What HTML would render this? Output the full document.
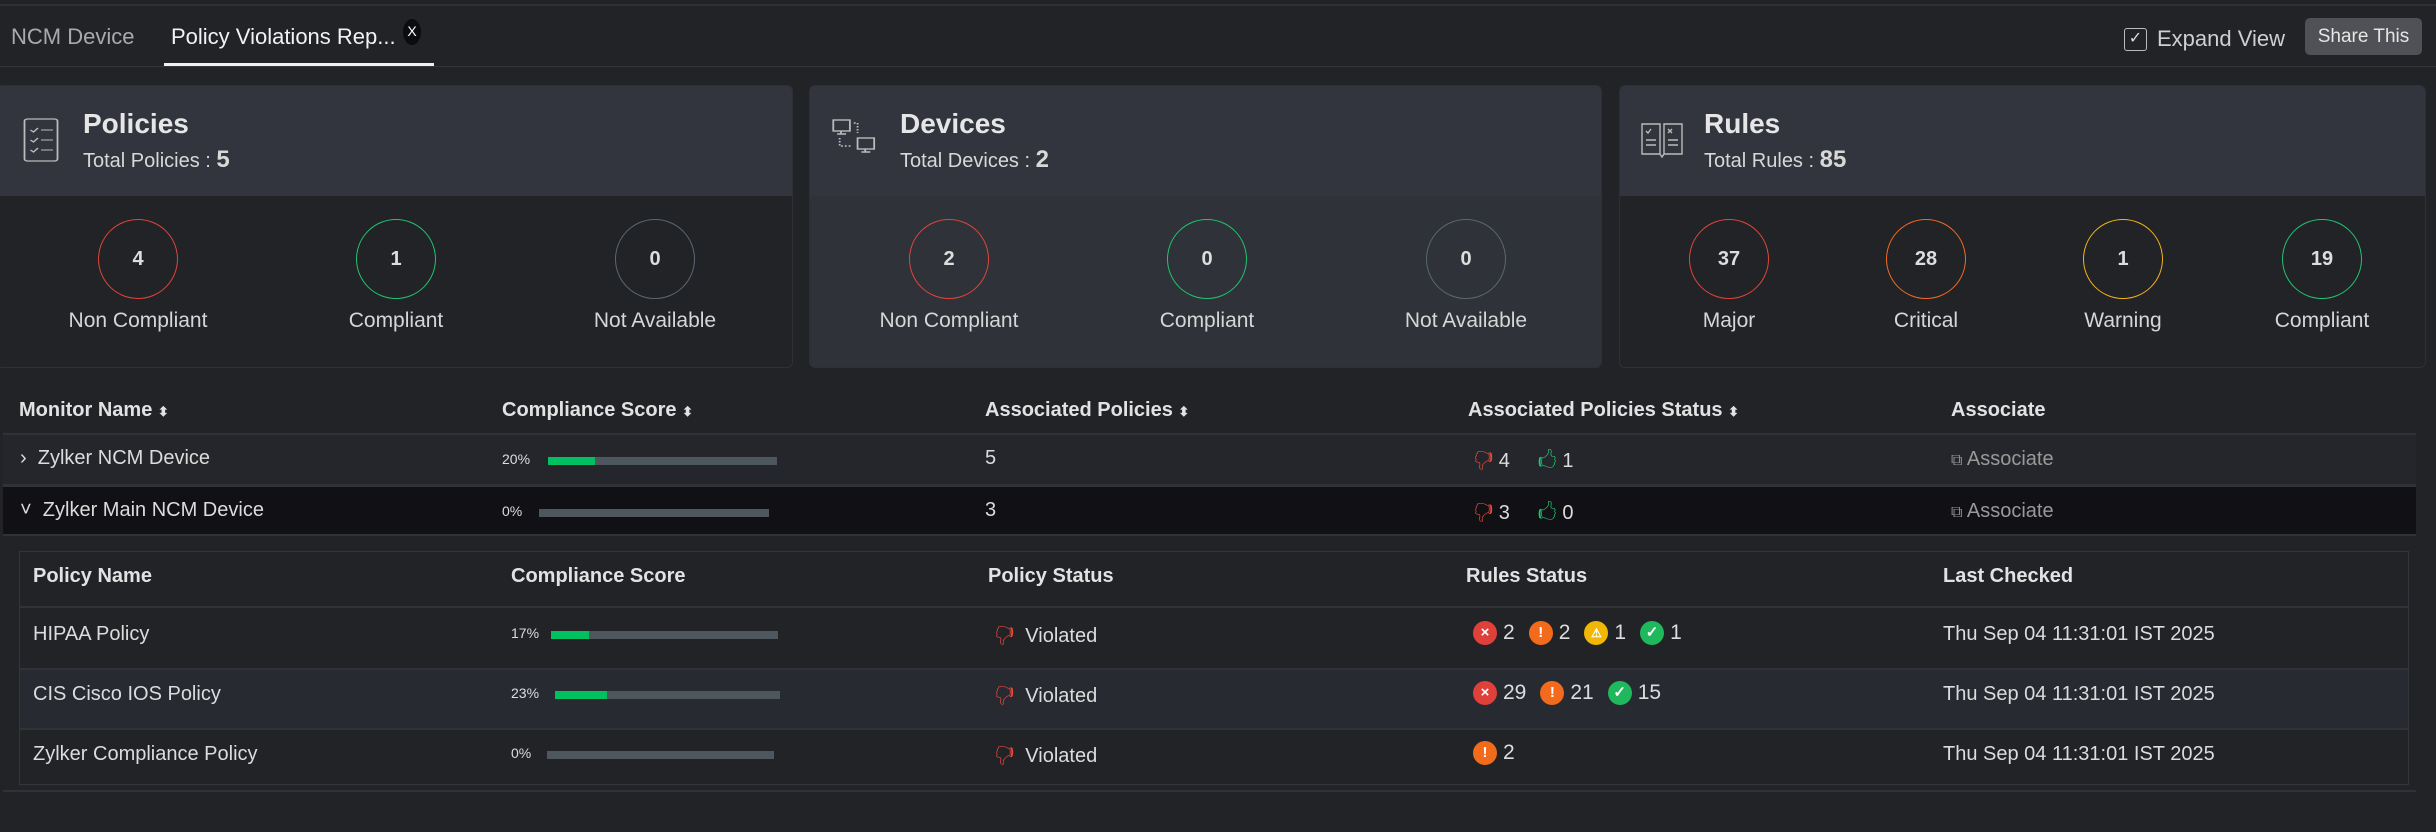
<!DOCTYPE html>
<html><head><meta charset="utf-8"><style>
*{margin:0;padding:0;box-sizing:border-box}
body{width:2436px;height:832px;background:#222327;font-family:"Liberation Sans",sans-serif;color:#dcdcdc;position:relative;overflow:hidden}
.a{position:absolute;white-space:nowrap}
.ln{position:absolute;height:2px;background:#303238}
.card{position:absolute;top:85px;height:283px;background:#222327;border:1px solid #2e3036;border-radius:6px;overflow:hidden}
.ch{position:absolute;left:0;right:0;top:0;height:110px;background:#32353d}
.tt{font-size:28px;font-weight:bold;color:#e6e6e6}
.tot{font-size:20px;color:#d8d8d8}
.tot b{font-size:24px}
.c{position:absolute;width:80px;height:80px;border-radius:50%;border:1.5px solid;top:133px;text-align:center;line-height:78px;font-size:20px;font-weight:bold;color:#ddd}
.cl{position:absolute;top:223px;font-size:21px;color:#d6d6d6;width:240px;text-align:center}
.th{font-size:20px;font-weight:bold;color:#e2e2e2}
.td{font-size:20px;color:#dcdcdc}
.bar{position:absolute;height:8px;background:#4f575e}
.bar i{position:absolute;left:0;top:0;bottom:0;background:#00c060}
.pct{font-size:14px;color:#ddd}
.ic{display:inline-block;width:24px;height:24px;border-radius:50%;color:#fff;font-size:15px;font-weight:bold;text-align:center;line-height:24px;vertical-align:middle;margin-right:6px}
.rs{font-size:21px;color:#ddd}
.rs span.n{margin-right:14px;vertical-align:middle}
</style></head><body>
<div class="ln" style="top:4px;left:0;width:2436px;background:#2e3035"></div>
<div class="a" style="left:11px;top:24px;font-size:22px;color:#aaa">NCM Device</div>
<div class="a" style="left:171px;top:24px;font-size:22px;color:#f2f2f2">Policy Violations Rep...</div>
<div class="a" style="left:403px;top:19px;width:18px;height:26px;border-radius:50%;background:#0c0c10;color:#fff;font-size:14px;text-align:center;line-height:24px">X</div>
<div class="a" style="left:164px;top:63px;width:270px;height:3px;background:#f0f0f0"></div>
<div class="ln" style="top:66px;left:0;width:2436px;height:1px;background:#34363c"></div>
<div class="a" style="left:2124px;top:28px;width:23px;height:23px;border:1.5px solid #bbb;border-radius:3px;color:#ddd;font-size:16px;text-align:center;line-height:20px">✓</div>
<div class="a" style="left:2157px;top:26px;font-size:22px;color:#cfcfcf">Expand View</div>
<div class="a" style="left:2305px;top:18px;width:117px;height:37px;background:#505156;border-radius:5px;color:#e6e6e6;font-size:19px;text-align:center;line-height:37px">Share This</div>

<!-- Policies card -->
<div class="card" style="left:-4px;width:797px">
 <div class="ch"></div>
 <svg class="a" style="left:26px;top:32px" width="36" height="44" viewBox="0 0 24 44" preserveAspectRatio="none"><rect x="1" y="1" width="22" height="42" rx="2" fill="none" stroke="#bbb" stroke-width="1.2"/><g stroke="#bbb" stroke-width="1.1" fill="none"><path d="M5 12l2 2 3-4M12 12h8M5 22l2 2 3-4M12 22h8M5 32l2 2 3-4M12 32h8"/></g></svg>
 <div class="a tt" style="left:86px;top:22px">Policies</div>
 <div class="a tot" style="left:86px;top:60px">Total Policies : <b>5</b></div>
 <div class="c" style="left:101px;border-color:#e0453a">4</div><div class="cl" style="left:21px">Non Compliant</div>
 <div class="c" style="left:359px;border-color:#1fc46f">1</div><div class="cl" style="left:279px">Compliant</div>
 <div class="c" style="left:618px;border-color:#5a6773">0</div><div class="cl" style="left:538px">Not Available</div>
</div>
<!-- Devices -->
<div class="card" style="left:809px;width:793px;background:#2f3239">
 <div class="ch"></div>
 <svg class="a" style="left:22px;top:32px" width="46" height="42" viewBox="0 0 36 42" preserveAspectRatio="none"><g fill="none" stroke="#bbb" stroke-width="1.4"><rect x="1" y="2" width="13" height="11"/><path d="M7 13v3M4 16h7"/><rect x="20" y="20" width="13" height="11"/><path d="M26 31v3M23 34h7"/><path d="M17 5h3v10M6 20v8h10" stroke-dasharray="1.5 1.5"/></g></svg>
 <div class="a tt" style="left:90px;top:22px">Devices</div>
 <div class="a tot" style="left:90px;top:60px">Total Devices : <b>2</b></div>
 <div class="c" style="left:99px;border-color:#e0453a">2</div><div class="cl" style="left:19px">Non Compliant</div>
 <div class="c" style="left:357px;border-color:#1fc46f">0</div><div class="cl" style="left:277px">Compliant</div>
 <div class="c" style="left:616px;border-color:#5a6773">0</div><div class="cl" style="left:536px">Not Available</div>
</div>
<!-- Rules -->
<div class="card" style="left:1619px;width:807px">
 <div class="ch"></div>
 <svg class="a" style="left:20px;top:36px" width="44" height="36" viewBox="0 0 44 36"><g fill="none" stroke="#bbb" stroke-width="1.4"><path d="M2 2h18v30H2zM24 2h18v30H24zM20 32l2 3 2-3"/><path d="M6 9l2 2 3-4M28 7l4 4M32 7l-4 4M6 18h10M6 23h10M28 18h10M28 23h10"/></g></svg>
 <div class="a tt" style="left:84px;top:22px">Rules</div>
 <div class="a tot" style="left:84px;top:60px">Total Rules : <b>85</b></div>
 <div class="c" style="left:69px;border-color:#e0453a">37</div><div class="cl" style="left:-11px">Major</div>
 <div class="c" style="left:266px;border-color:#f26a22">28</div><div class="cl" style="left:186px">Critical</div>
 <div class="c" style="left:463px;border-color:#f2b21a">1</div><div class="cl" style="left:383px">Warning</div>
 <div class="c" style="left:662px;border-color:#1fc46f">19</div><div class="cl" style="left:582px">Compliant</div>
</div>

<!-- main table -->
<div class="a th" style="left:19px;top:399px">Monitor Name <span style="font-size:13px">⬍</span></div>
<div class="a th" style="left:502px;top:399px">Compliance Score <span style="font-size:13px">⬍</span></div>
<div class="a th" style="left:985px;top:399px">Associated Policies <span style="font-size:13px">⬍</span></div>
<div class="a th" style="left:1468px;top:399px">Associated Policies Status <span style="font-size:13px">⬍</span></div>
<div class="a th" style="left:1951px;top:399px">Associate</div>
<div class="ln" style="top:433px;left:3px;width:2413px"></div>
<div class="a" style="left:3px;top:435px;width:2413px;height:50px;background:#25262b"></div>
<div class="a td" style="left:20px;top:447px">›&nbsp; Zylker NCM Device</div>
<div class="a pct" style="left:502px;top:451px">20%</div>
<div class="bar" style="left:548px;top:457px;width:229px"><i style="width:47px"></i></div>
<div class="a td" style="left:985px;top:447px">5</div>
<div class="a td" style="left:1474px;top:446px"><span style="color:#e84a3a">🖓</span>&nbsp;4 &nbsp;&nbsp;&nbsp;&nbsp;<span style="color:#1fc46f">🖒</span>&nbsp;1</div>
<div class="a td" style="left:1951px;top:448px;color:#999"><span style="font-size:16px">⧉</span> Associate</div>
<div class="ln" style="top:484px;left:3px;width:2413px;height:3px"></div>
<div class="a" style="left:3px;top:487px;width:2413px;height:47px;background:#101015"></div>
<div class="a td" style="left:20px;top:499px">˅&nbsp; Zylker Main NCM Device</div>
<div class="a pct" style="left:502px;top:503px">0%</div>
<div class="bar" style="left:539px;top:509px;width:230px"></div>
<div class="a td" style="left:985px;top:499px">3</div>
<div class="a td" style="left:1474px;top:498px"><span style="color:#e84a3a">🖓</span>&nbsp;3 &nbsp;&nbsp;&nbsp;&nbsp;<span style="color:#1fc46f">🖒</span>&nbsp;0</div>
<div class="a td" style="left:1951px;top:500px;color:#999"><span style="font-size:16px">⧉</span> Associate</div>
<div class="ln" style="top:534px;left:3px;width:2413px"></div>

<!-- sub table -->
<div class="a" style="left:19px;top:551px;width:2390px;height:234px;border:1px solid #34363c"></div>
<div class="a th" style="left:33px;top:565px">Policy Name</div>
<div class="a th" style="left:511px;top:565px">Compliance Score</div>
<div class="a th" style="left:988px;top:565px">Policy Status</div>
<div class="a th" style="left:1466px;top:565px">Rules Status</div>
<div class="a th" style="left:1943px;top:565px">Last Checked</div>
<div class="ln" style="top:606px;left:20px;width:2388px"></div>
<div class="a" style="left:20px;top:668px;width:2388px;height:61px;background:#272a31"></div>
<div class="ln" style="top:668px;left:20px;width:2388px"></div>
<div class="ln" style="top:728px;left:20px;width:2388px"></div>

<div class="a td" style="left:33px;top:623px">HIPAA Policy</div>
<div class="a pct" style="left:511px;top:625px">17%</div>
<div class="bar" style="left:551px;top:631px;width:227px"><i style="width:38px"></i></div>
<div class="a td" style="left:995px;top:621px"><span style="color:#e84a3a">🖓</span>&nbsp; Violated</div>
<div class="a rs" style="left:1473px;top:621px"><span class="ic" style="background:#e0403a">×</span><span class="n">2</span><span class="ic" style="background:#f26a1b">!</span><span class="n">2</span><span class="ic" style="background:#f2b705;font-size:12px">⚠</span><span class="n">1</span><span class="ic" style="background:#1fb85c">✓</span><span class="n">1</span></div>
<div class="a td" style="left:1943px;top:623px">Thu Sep 04 11:31:01 IST 2025</div>

<div class="a td" style="left:33px;top:683px">CIS Cisco IOS Policy</div>
<div class="a pct" style="left:511px;top:685px">23%</div>
<div class="bar" style="left:555px;top:691px;width:225px"><i style="width:52px"></i></div>
<div class="a td" style="left:995px;top:681px"><span style="color:#e84a3a">🖓</span>&nbsp; Violated</div>
<div class="a rs" style="left:1473px;top:681px"><span class="ic" style="background:#e0403a">×</span><span class="n">29</span><span class="ic" style="background:#f26a1b">!</span><span class="n">21</span><span class="ic" style="background:#1fb85c">✓</span><span class="n">15</span></div>
<div class="a td" style="left:1943px;top:683px">Thu Sep 04 11:31:01 IST 2025</div>

<div class="a td" style="left:33px;top:743px">Zylker Compliance Policy</div>
<div class="a pct" style="left:511px;top:745px">0%</div>
<div class="bar" style="left:547px;top:751px;width:227px"></div>
<div class="a td" style="left:995px;top:741px"><span style="color:#e84a3a">🖓</span>&nbsp; Violated</div>
<div class="a rs" style="left:1473px;top:741px"><span class="ic" style="background:#f26a1b">!</span><span class="n">2</span></div>
<div class="a td" style="left:1943px;top:743px">Thu Sep 04 11:31:01 IST 2025</div>
<div class="ln" style="top:790px;left:3px;width:2413px"></div>
</body></html>
